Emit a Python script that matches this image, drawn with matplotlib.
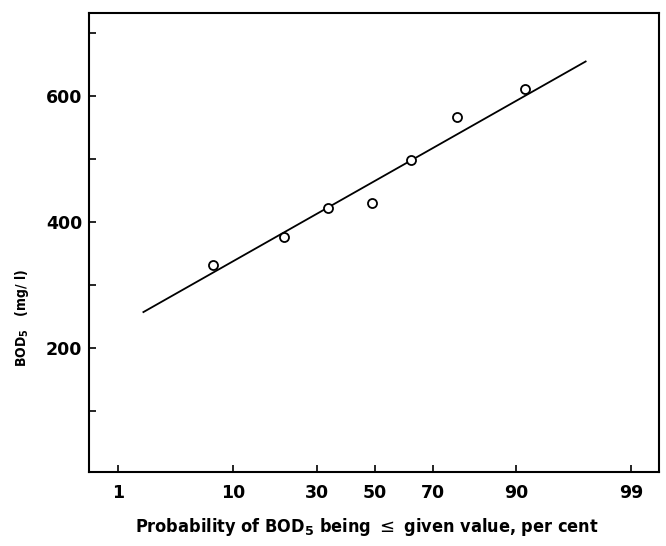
import numpy as np
import matplotlib
matplotlib.use("Agg")
import matplotlib.pyplot as plt
from statistics import NormalDist

# Data (probability in per cent, BOD5 in mg/l)
prob_pct = [7.1, 20.5, 33.5, 48.9, 62.8, 77.1, 91.4]
bod5 = [332, 376, 422, 430, 498, 567, 612]

# Fitted line end points
line_prob = [1.8, 97.2]
line_bod = [257, 655]

x_ticks = [1, 10, 30, 50, 70, 90, 99]
x_ticklabels = ["1", "10", "30", "50", "70", "90", "99"]
y_ticks = [200, 400, 600]
y_minor = [100, 300, 500, 700]

_nd = NormalDist()


def _fwd(p):
    p = np.asarray(p, dtype=float)
    q = np.clip(p / 100.0, 1e-9, 1 - 1e-9)
    return np.vectorize(_nd.inv_cdf, otypes=[float])(q)


def _inv(z):
    z = np.asarray(z, dtype=float)
    return np.vectorize(_nd.cdf, otypes=[float])(z) * 100.0


fig = plt.figure(figsize=(6.66, 5.46), dpi=100)
ax = fig.add_axes([89 / 666, 1 - 472 / 546, (659 - 89) / 666, (472 - 13) / 546])

ax.set_xscale("function", functions=(_fwd, _inv))
ax.set_xlim(0.48, 99.5)
ax.set_ylim(3, 732)

ax.plot(line_prob, line_bod, color="black", lw=1.3)
ax.plot(prob_pct, bod5, "o", mfc="white", mec="black", ms=6.5, mew=1.3)

ax.set_xticks(x_ticks)
ax.set_xticklabels(x_ticklabels)
ax.xaxis.set_minor_locator(matplotlib.ticker.NullLocator())
ax.set_yticks(y_ticks)
ax.set_yticks(y_minor, minor=True)

for s in ax.spines.values():
    s.set_linewidth(1.5)

ax.tick_params(axis="both", which="both", direction="in", width=1.2)
ax.tick_params(axis="both", which="major", length=5)
ax.tick_params(axis="y", which="minor", length=5)
ax.tick_params(axis="x", which="major", pad=9, labelsize=12.5)
ax.tick_params(axis="y", which="major", pad=5, labelsize=12.5)
for lab in ax.get_xticklabels() + ax.get_yticklabels():
    lab.set_fontweight("bold")
    lab.set_family(["DejaVu Sans"])

fig.text(367 / 666, 1 - 527 / 546,
         r"Probability of BOD$_\mathbf{5}$ being $\leq$ given value, per cent",
         ha="center", va="center", fontsize=13, fontweight="bold",
         fontstretch="condensed", family=["DejaVu Sans"])

fig.text(22 / 666, 1 - 318 / 546, r"BOD$_\mathbf{5}$   (mg/ l)",
         ha="center", va="center", rotation=90, fontsize=10, fontweight="bold",
         fontstretch="condensed", family=["DejaVu Sans"])

fig.savefig("out.png", dpi=100)
